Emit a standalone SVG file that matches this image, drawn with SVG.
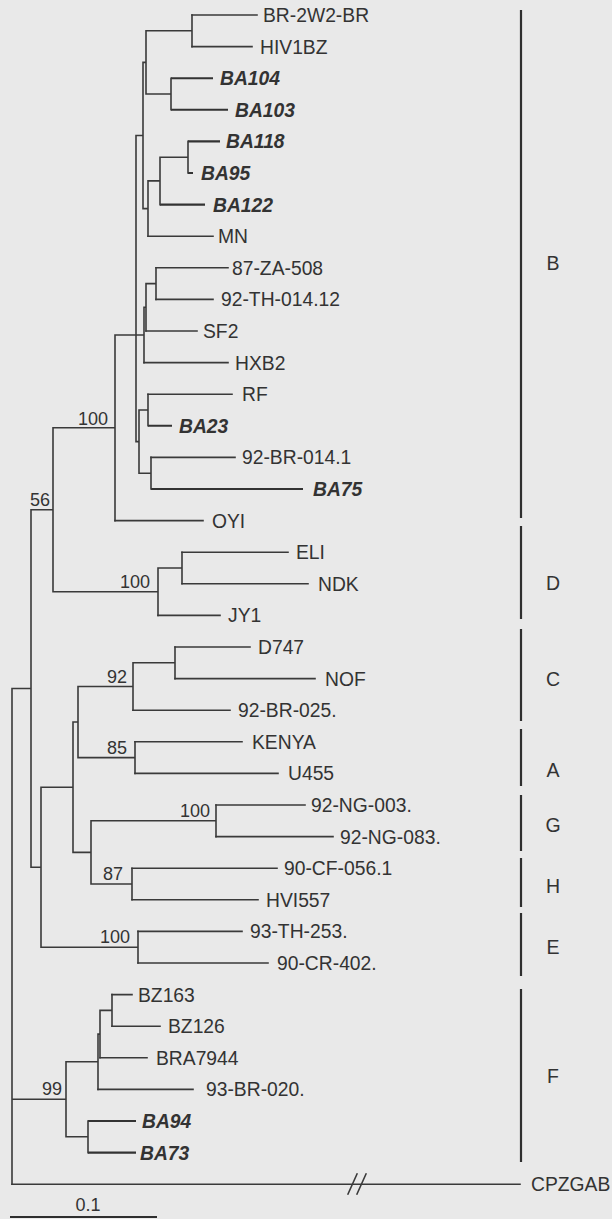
<svg xmlns="http://www.w3.org/2000/svg" width="612" height="1219" viewBox="0 0 612 1219">
<style>
.br{fill:none;stroke:#3a3a3a;stroke-width:1.6;stroke-linecap:square}
.bb{fill:none;stroke:#333;stroke-width:2.1}
.bar{stroke:#2f2f2f;stroke-width:2.2}
text{font-family:"Liberation Sans",Arial,sans-serif;fill:#333}
.t{font-size:19.3px}
.tb{font-size:19.3px;font-weight:bold;font-style:italic}
.bs{font-size:18px;text-anchor:end}
.cl{font-size:19.5px;text-anchor:middle}
</style>
<rect width="612" height="1219" fill="#e9e9e9"/>
<g id="connectors">
<path class="br" d="M192 15H257M192 46.6H252M156 267.8H228M156 299.4H213M146 331H197M144 362.6H228M148 394.2H232M151 457.4H235M148 236.2H213M115 520.6H203M182 552.2H288M182 583.8H308M158 615.4H220M175 647H250M175 678.6H315M133 710.2H230M135 741.8H242M135 773.4H278M216 805H305M216 836.6H333M132 868.2H277M132 899.8H258M138 931.4H242M138 963H268M112 994.6H132M112 1026.2H160M100 1057.8H147M98 1089.4H193M12 1184.2H520"/>
<path class="bb" d="M171 78.2H213M171 109.8H228M188 141.4H220M188 173H193M160 204.6H205M148 425.8H172M151 489H303M88 1121H136M88 1152.6H136"/>
<path class="br" d="M192 15V46.6M146 30.8H192M171 78.2V109.8M146 94H171M146 30.8V94M143 62.4H146M188 141.4V173M160 157.2H188M160 157.2V204.6M148 180.9H160M148 180.9V236.2M143 208.6H148M143 62.4V208.6M136 135.5H143M156 267.8V299.4M146 283.6H156M146 283.6V331M144 307.3H146M144 307.3V362.6M115 335H144M148 394.2V425.8M139 410H148M151 457.4V489M139 473.2H151M139 410V473.2M136 441.6H139M136 135.5V441.6M115 335V520.6M53 427.8H115M182 552.2V583.8M158 568H182M158 568V615.4M53 591.7H158M53 427.8V591.7M31 509.8H53M175 647V678.6M133 662.8H175M133 662.8V710.2M78 686.5H133M135 741.8V773.4M78 757.6H135M78 686.5V757.6M73 722H78M216 805V836.6M91 820.8H216M132 868.2V899.8M91 884H132M91 820.8V884M73 852.4H91M73 722V852.4M41 787.2H73M138 931.4V963M41 947.2H138M41 787.2V947.2M31 867.2H41M31 509.8V867.2M12 688.5H31M112 994.6V1026.2M100 1010.4H112M100 1010.4V1057.8M98 1034.1H100M98 1034.1V1089.4M66 1061.8H98M88 1121V1152.6M66 1136.8H88M66 1061.8V1136.8M12 1099.3H66M12 688.5V1184.2"/>
<path class="br" d="M348 1194L357 1174M357 1194L366 1174"/>
</g>
<g id="leaves">
<g id="n-BR-2W2-BR"><text class="t" x="263" y="22">BR-2W2-BR</text></g>
<g id="n-HIV1BZ"><text class="t" x="260" y="53.6">HIV1BZ</text></g>
<g id="n-BA104"><text class="tb" x="220" y="85.2">BA104</text></g>
<g id="n-BA103"><text class="tb" x="235" y="116.8">BA103</text></g>
<g id="n-BA118"><text class="tb" x="226" y="148.4">BA118</text></g>
<g id="n-BA95"><text class="tb" x="201" y="180">BA95</text></g>
<g id="n-BA122"><text class="tb" x="213" y="211.6">BA122</text></g>
<g id="n-MN"><text class="t" x="218" y="243.2">MN</text></g>
<g id="n-87-ZA-508"><text class="t" x="232" y="274.8">87-ZA-508</text></g>
<g id="n-92-TH-014.12"><text class="t" x="221" y="306.4">92-TH-014.12</text></g>
<g id="n-SF2"><text class="t" x="203" y="338">SF2</text></g>
<g id="n-HXB2"><text class="t" x="235" y="369.6">HXB2</text></g>
<g id="n-RF"><text class="t" x="242" y="401.2">RF</text></g>
<g id="n-BA23"><text class="tb" x="179" y="432.8">BA23</text></g>
<g id="n-92-BR-014.1"><text class="t" x="242" y="464.4">92-BR-014.1</text></g>
<g id="n-BA75"><text class="tb" x="313" y="496">BA75</text></g>
<g id="n-OYI"><text class="t" x="212" y="527.6">OYI</text></g>
<g id="n-ELI"><text class="t" x="296" y="559.2">ELI</text></g>
<g id="n-NDK"><text class="t" x="318" y="590.8">NDK</text></g>
<g id="n-JY1"><text class="t" x="228" y="622.4">JY1</text></g>
<g id="n-D747"><text class="t" x="258" y="654">D747</text></g>
<g id="n-NOF"><text class="t" x="325" y="685.6">NOF</text></g>
<g id="n-92-BR-025"><text class="t" x="238" y="717.2">92-BR-025.</text></g>
<g id="n-KENYA"><text class="t" x="252" y="748.8">KENYA</text></g>
<g id="n-U455"><text class="t" x="288" y="780.4">U455</text></g>
<g id="n-92-NG-003"><text class="t" x="311" y="812">92-NG-003.</text></g>
<g id="n-92-NG-083"><text class="t" x="340" y="843.6">92-NG-083.</text></g>
<g id="n-90-CF-056.1"><text class="t" x="284" y="875.2">90-CF-056.1</text></g>
<g id="n-HVI557"><text class="t" x="266" y="906.8">HVI557</text></g>
<g id="n-93-TH-253"><text class="t" x="250" y="938.4">93-TH-253.</text></g>
<g id="n-90-CR-402"><text class="t" x="277" y="970">90-CR-402.</text></g>
<g id="n-BZ163"><text class="t" x="138" y="1001.6">BZ163</text></g>
<g id="n-BZ126"><text class="t" x="168" y="1033.2">BZ126</text></g>
<g id="n-BRA7944"><text class="t" x="156" y="1064.8">BRA7944</text></g>
<g id="n-93-BR-020"><text class="t" x="206" y="1096.4">93-BR-020.</text></g>
<g id="n-BA94"><text class="tb" x="142" y="1128">BA94</text></g>
<g id="n-BA73"><text class="tb" x="140" y="1159.6">BA73</text></g>
<g id="n-CPZGAB"><text class="t" x="531" y="1191.2">CPZGAB</text></g>
</g>
<g id="bootstrap">
<text class="bs" x="108" y="425">100</text>
<text class="bs" x="50" y="506">56</text>
<text class="bs" x="150" y="588">100</text>
<text class="bs" x="127" y="683">92</text>
<text class="bs" x="127" y="754">85</text>
<text class="bs" x="210" y="817">100</text>
<text class="bs" x="123" y="880">87</text>
<text class="bs" x="130" y="943">100</text>
<text class="bs" x="62" y="1095">99</text>
</g>
<g id="clades">
<g id="clade-B"><line class="bar" x1="521" y1="10" x2="521" y2="518"/><text class="cl" x="553" y="270">B</text></g>
<g id="clade-D"><line class="bar" x1="521" y1="526" x2="521" y2="619"/><text class="cl" x="553" y="590">D</text></g>
<g id="clade-C"><line class="bar" x1="521" y1="629" x2="521" y2="721"/><text class="cl" x="553" y="686">C</text></g>
<g id="clade-A"><line class="bar" x1="521" y1="729" x2="521" y2="786"/><text class="cl" x="553" y="777">A</text></g>
<g id="clade-G"><line class="bar" x1="521" y1="795" x2="521" y2="851"/><text class="cl" x="553" y="832">G</text></g>
<g id="clade-H"><line class="bar" x1="521" y1="858" x2="521" y2="907"/><text class="cl" x="553" y="893">H</text></g>
<g id="clade-E"><line class="bar" x1="521" y1="913" x2="521" y2="976"/><text class="cl" x="553" y="954">E</text></g>
<g id="clade-F"><line class="bar" x1="521" y1="989" x2="521" y2="1162"/><text class="cl" x="553" y="1083">F</text></g>
</g>
<g id="scale">
<line class="bar" x1="10" y1="1217" x2="157" y2="1217"/>
<text x="88" y="1211" font-size="18" text-anchor="middle">0.1</text>
</g>
</svg>
